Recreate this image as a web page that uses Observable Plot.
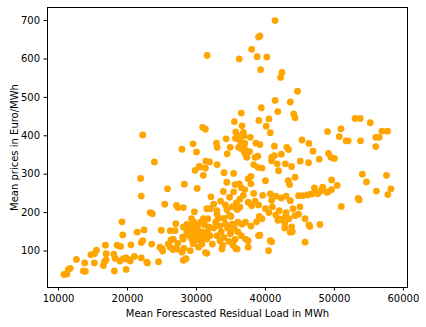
<!DOCTYPE html>
<html><head><meta charset="utf-8">
<script src="https://cdn.jsdelivr.net/npm/d3@7"></script>
<script src="https://cdn.jsdelivr.net/npm/@observablehq/plot@0.6"></script>
<style>body{margin:0;background:#fff}</style>
</head><body><div id="chart"></div>
<script>
const residualLoad = [
10800,11200,11400,11700,12600,13600,13900,13800,14700,15200,15500,15200,16800,16900,16500,16650,16900,18000,18200,18100,
18500,19000,19200,19300,18900,19400,19800,19800,20100,20500,21000,20400,21400,22000,22200,22000,22400,22900,21900,22000,
22200,23300,23600,23500,23900,24500,24900,25000,25100,25400,25800,25900,26300,26600,27000,27100,27300,27300,27200,28100,
28250,28000,28200,28100,28500,28600,28800,29300,29200,29700,29800,30100,29700,30050,29500,30500,31000,30800,30600,31300,
31500,31650,32100,31800,31500,22800,24700,26200,26900,27900,29100,30800,31500,33400,33700,29300,28100,26650,30500,28600,
26900,26200,28100,29100,29600,31000,32000,32950,34400,34800,33900,35400,29000,29400,30000,30200,29800,30600,31200,31600,
32000,32500,32800,33200,33600,34000,34500,34900,35200,35600,36000,30300,32300,29900,31000,33000,27900,29500,30000,30900,
31300,31550,31350,31900,32900,33000,34300,34900,34450,35650,35500,33000,30400,31300,34000,35400,34400,35600,36200,36500,
36600,36800,36900,37800,36200,41400,39200,39000,38000,38800,40200,39300,42400,42200,44650,41400,43600,39400,41800,44100,
44300,40500,39050,40100,40700,38600,39200,41300,36900,43100,43350,37700,42300,37200,38900,40900,41300,45300,46300,46900,
47800,49150,49500,50000,49000,50700,50950,51700,52000,53000,53750,55200,53800,56000,56500,56900,57700,56000,46250,45050,
43800,44300,43300,43500,49600,47100,48300,42900,41700,41900,40900,40000,37900,37500,38900,39500,38300,38500,37300,37100,
36600,36100,37000,36200,36500,37900,35700,36000,36400,37000,36300,37500,38000,35900,40700,40900,41500,42300,43000,43600,
44800,45400,46100,46600,47100,47600,48900,49600,41900,42400,42900,43400,44300,44800,45750,46300,47900,43800,43600,42800,
39500,39100,38700,37100,36600,37900,39000,37100,37500,40700,37500,40450,45750,35900,46450,51000,53450,53600,54050,54650,
56100,57550,57750,58200,50400,49100,48000,40900,39200,35700,43900,42800,41800,41500,40500,40000,39000,38500,41000,42000,
44000,45000,43000,36800,36300,39600,38300,37000,32500,33500,34200,34800,35200,35800,33000,34000,35000,35500,34200,33800,
34700,35300,36500,36000,35000,33400
];
const meanPrice = [
39,40,52,55,78,48,47,69,90,93,102,69,115,93,62,72,77,92,81,48,
115,112,176,142,74,80,52,82,78,116,86,74,149,122,127,82,155,69,289,243,
402,200,197,118,332,72,154,106,100,222,262,118,129,104,171,219,213,120,105,213,
274,136,107,76,80,169,158,184,145,202,310,263,157,143,119,319,297,150,128,96,
94,184,241,163,210,71,110,110,106,97,101,118,131,127,105,131,131,131,139,149,
153,153,162,167,175,184,210,205,208,193,255,254,140,150,155,165,170,175,168,150,
140,160,175,185,150,135,160,145,170,130,175,110,118,128,140,140,365,379,358,422,
417,609,334,332,381,370,392,370,353,393,437,325,320,316,304,302,279,273,600,459,
426,409,400,396,391,700,660,657,625,606,605,572,565,552,516,492,488,473,463,457,
447,444,440,425,408,381,377,373,370,370,364,359,352,348,347,344,348,389,380,360,
339,354,344,341,411,398,418,387,387,445,445,434,387,396,396,412,412,372,330,334,
320,292,283,273,285,264,266,327,327,309,335,283,294,288,318,316,325,344,344,361,
365,370,355,275,265,275,410,400,385,380,214,227,218,208,249,232,243,238,243,231,
244,244,246,248,251,249,253,260,184,182,190,184,192,196,184,168,169,163,149,160,
184,190,176,175,170,165,140,131,127,127,110,101,123,105,164,216,237,233,300,280,
256,297,247,262,271,254,256,124,141,106,150,172,180,194,200,210,220,230,215,205,
210,215,200,245,235,245,250,260,222,230,220,240,215,225,195,185,190,160,170,115,
125,115,140,150,150,165
];
const xTicks = [10000, 20000, 30000, 40000, 50000, 60000];
const yTicks = [100, 200, 300, 400, 500, 600, 700];

const data = residualLoad.map((x, i) => ({x, y: meanPrice[i]}));

const chart = Plot.plot({
  width: 426, height: 327,
  marginLeft: 47, marginRight: 19, marginTop: 7, marginBottom: 40,
  style: {fontFamily: "DejaVu Sans", fontSize: "10px", background: "#fff", color: "black"},
  x: {domain: [8400, 60600]},
  y: {domain: [5, 734]},
  marks: [
    Plot.dot(data, {x: "x", y: "y", r: 3.4, fill: "#FFA500"}),
    Plot.frame({stroke: "black", strokeWidth: 1}),
    Plot.axisX({ticks: xTicks, tickSize: 3.5, tickPadding: 4, tickFormat: d3.format("d"),
      label: "Mean Forescasted Residual Load in MWh", labelAnchor: "center", labelArrow: "none", labelOffset: 29}),
    Plot.axisY({ticks: yTicks, tickSize: 3.5, tickPadding: 4, tickFormat: d3.format("d"),
      label: "Mean prices in Euro/MWh", labelAnchor: "center", labelArrow: "none", labelOffset: 37})
  ]
});
document.getElementById("chart").appendChild(chart);
</script>
</body></html>
